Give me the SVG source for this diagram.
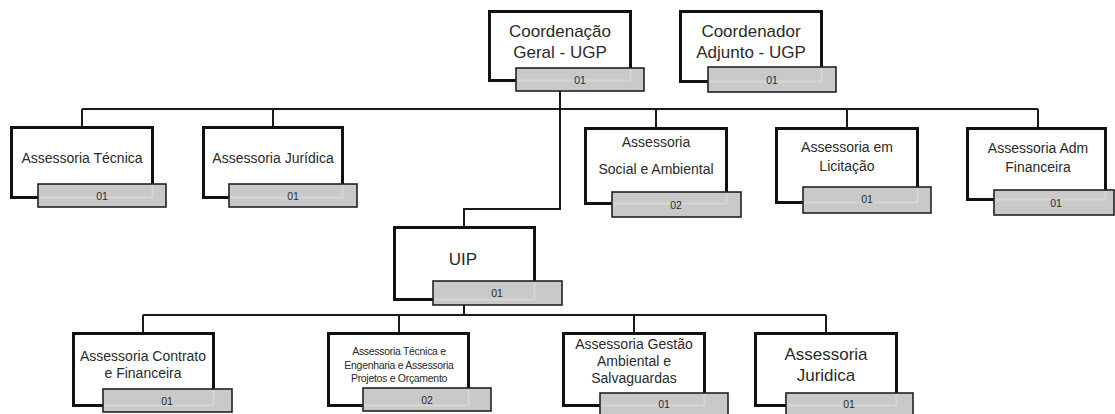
<svg xmlns="http://www.w3.org/2000/svg" width="1115" height="414" viewBox="0 0 1115 414">
<style>
.box{fill:#fff;stroke:#111;stroke-width:3}
.badge{fill:#c9c9c9;stroke:#222;stroke-width:1.6}
.ghost{fill:none;stroke:#d6d6d6;stroke-width:2}
.t{font-family:"Liberation Sans",Arial,sans-serif;fill:#2a2a2a;text-anchor:middle}
.big{font-size:17px}
.mid{font-size:14px}
.sm{font-size:10.5px;letter-spacing:-0.3px}
.n{font-family:"Liberation Sans",Arial,sans-serif;font-size:10.5px;fill:#2a2a2a;text-anchor:middle}
.c{fill:none;stroke:#1a1a1a;stroke-width:2}
</style>
<rect width="1115" height="414" fill="#fff"/>
<g id="connectors">
<path class="c" d="M560 91 V209 H464 V226"/>
<path class="c" d="M82 109 H1038"/>
<path class="c" d="M82 109 V127 M273 109 V127 M656 109 V128 M847 109 V128 M1038 109 V128"/>
<path class="c" d="M464 305 V315"/>
<path class="c" d="M143 315 H826 M143 315 V333 M399 315 V333 M634 315 V333 M826 315 V333"/>
</g>
<g id="coord-geral">
<rect class="box" x="489.5" y="11.5" width="141" height="69"/>
<rect class="badge" x="516" y="68" width="128" height="23"/>
<path class="ghost" d="M630.5 69 V80.5 H517"/>
<text class="t big" x="560" y="37">Coordenação</text>
<text class="t big" x="560" y="58">Geral - UGP</text>
<text class="n" x="580" y="84">01</text>
</g>
<g id="coord-adjunto">
<rect class="box" x="680.5" y="11.5" width="141" height="70"/>
<rect class="badge" x="708" y="67" width="128" height="25"/>
<path class="ghost" d="M821.5 68 V81.5 H709"/>
<text class="t big" x="751" y="37">Coordenador</text>
<text class="t big" x="751" y="58">Adjunto  - UGP</text>
<text class="n" x="772" y="84">01</text>
</g>
<g id="ass-tecnica">
<rect class="box" x="11.5" y="127.5" width="141" height="70"/>
<rect class="badge" x="38" y="184" width="128" height="23"/>
<path class="ghost" d="M152.5 185 V197.5 H39"/>
<text class="t mid" x="82" y="163">Assessoria Técnica</text>
<text class="n" x="102" y="200">01</text>
</g>
<g id="ass-juridica">
<rect class="box" x="203.5" y="127.5" width="139" height="70"/>
<rect class="badge" x="229" y="184" width="128" height="23"/>
<path class="ghost" d="M342.5 185 V197.5 H230"/>
<text class="t mid" x="273" y="163">Assessoria  Jurídica</text>
<text class="n" x="293" y="200">01</text>
</g>
<g id="ass-social">
<rect class="box" x="585.5" y="128.5" width="141" height="75"/>
<rect class="badge" x="612" y="192" width="129" height="25"/>
<path class="ghost" d="M726.5 193 V203.5 H613"/>
<text class="t mid" x="656" y="147">Assessoria</text>
<text class="t mid" x="656" y="174">Social e Ambiental</text>
<text class="n" x="676" y="209">02</text>
</g>
<g id="ass-licitacao">
<rect class="box" x="776.5" y="128.5" width="141" height="74"/>
<rect class="badge" x="803" y="187" width="128" height="26"/>
<path class="ghost" d="M917.5 188 V202.5 H804"/>
<text class="t mid" x="847" y="152">Assessoria em</text>
<text class="t mid" x="847" y="171">Licitação</text>
<text class="n" x="867" y="203">01</text>
</g>
<g id="ass-adm">
<rect class="box" x="967.5" y="128.5" width="138" height="71"/>
<rect class="badge" x="994" y="190" width="120" height="25"/>
<path class="ghost" d="M1105.5 191 V199.5 H995"/>
<text class="t mid" x="1038" y="153">Assessoria Adm</text>
<text class="t mid" x="1038" y="172">Financeira</text>
<text class="n" x="1056" y="207">01</text>
</g>
<g id="uip">
<rect class="box" x="394.5" y="227.5" width="140" height="72"/>
<rect class="badge" x="433" y="281" width="129" height="24"/>
<path class="ghost" d="M534.5 282 V299.5 H434"/>
<text class="t big" x="463" y="265">UIP</text>
<text class="n" x="497" y="297">01</text>
</g>
<g id="ass-contrato">
<rect class="box" x="73.5" y="333.5" width="140" height="72"/>
<rect class="badge" x="103" y="389" width="129" height="23"/>
<path class="ghost" d="M213.5 390 V405.5 H104"/>
<text class="t mid" x="143" y="361">Assessoria Contrato</text>
<text class="t mid" x="143" y="378">e  Financeira</text>
<text class="n" x="167" y="405">01</text>
</g>
<g id="ass-tec-eng">
<rect class="box" x="328.5" y="333.5" width="140" height="72"/>
<rect class="badge" x="363" y="388" width="128" height="23"/>
<path class="ghost" d="M468.5 389 V405.5 H364"/>
<text class="t sm" x="399" y="355">Assessoria Técnica e</text>
<text class="t sm" x="399" y="369">Engenharia e Assessoria</text>
<text class="t sm" x="399" y="382">Projetos e Orçamento</text>
<text class="n" x="427" y="404">02</text>
</g>
<g id="ass-gestao">
<rect class="box" x="563.5" y="333.5" width="141" height="72"/>
<rect class="badge" x="600" y="393" width="128" height="24"/>
<path class="ghost" d="M704.5 394 V405.5 H601"/>
<text class="t mid" x="634" y="349">Assessoria Gestão</text>
<text class="t mid" x="634" y="366">Ambiental e</text>
<text class="t mid" x="634" y="383">Salvaguardas</text>
<text class="n" x="664" y="408">01</text>
</g>
<g id="ass-juridica-uip">
<rect class="box" x="755.5" y="333.5" width="141" height="72"/>
<rect class="badge" x="786" y="393" width="127" height="24"/>
<path class="ghost" d="M896.5 394 V405.5 H787"/>
<text class="t big" x="826" y="360">Assessoria</text>
<text class="t big" x="826" y="381">Juridica</text>
<text class="n" x="849" y="408">01</text>
</g>
</svg>
